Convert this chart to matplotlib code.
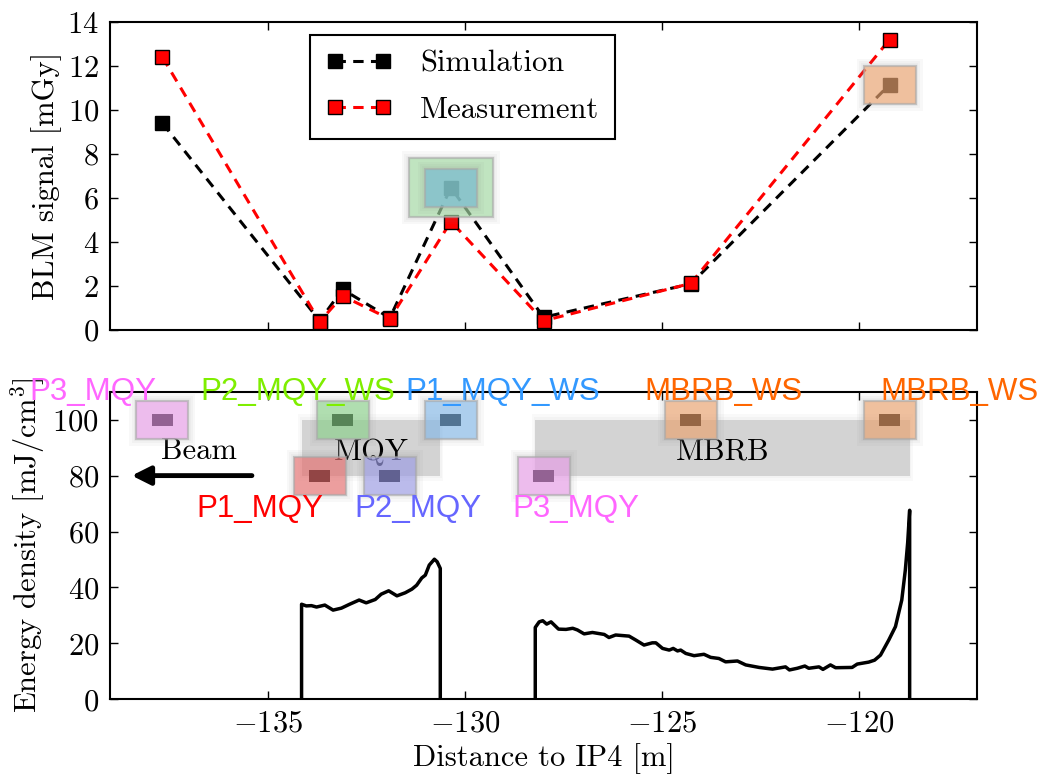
import numpy as np
import matplotlib
matplotlib.use('Agg')
import matplotlib.pyplot as plt
from matplotlib.patches import Rectangle
from matplotlib.transforms import ScaledTranslation
from matplotlib.ticker import FuncFormatter, MultipleLocator

# BLM positions and signals (top panel)
blm_pos = [-137.67, -133.68, -133.10, -131.90, -130.35, -128.00, -124.26, -119.22]
blm_names = ['P3_MQY', 'P1_MQY', 'P2_MQY_WS', 'P2_MQY', 'P1_MQY_WS', 'P3_MQY', 'MBRB_WS', 'MBRB_WS']
sim_signal = [9.4, 0.42, 1.85, 0.55, 6.47, 0.58, 2.10, 11.15]
meas_signal = [12.4, 0.38, 1.55, 0.50, 4.93, 0.42, 2.12, 13.2]

# magnets
magnet_names = ['MQY', 'MBRB']
magnet_start = [-134.14, -128.21]
magnet_end = [-130.62, -118.71]

# energy density profile along the magnets (bottom panel)
mqy_x = [-134.14, -134.02, -133.89, -133.76, -133.55, -133.34, -133.13, -132.92, -132.68,
         -132.50, -132.27, -132.12, -131.93, -131.72, -131.51, -131.34, -131.22, -131.09,
         -131.00, -130.90, -130.77, -130.70, -130.62]
mqy_e = [34.0, 33.4, 33.5, 33.0, 33.7, 31.9, 32.6, 34.0, 35.5,
         34.5, 35.7, 37.6, 38.8, 37.0, 38.1, 39.4, 40.8, 43.4,
         44.4, 48.0, 50.1, 49.2, 46.8]
mbrb_x = [-128.21, -128.11, -128.02, -127.92, -127.81, -127.62, -127.43, -127.26, -127.14,
          -126.97, -126.76, -126.46, -126.34, -126.17, -125.83, -125.66, -125.45, -125.24,
          -125.15, -124.98, -124.81, -124.71, -124.60, -124.52, -124.39, -124.18, -123.93,
          -123.76, -123.55, -123.38, -123.08, -122.87, -122.53, -122.19, -121.86, -121.76,
          -121.56, -121.37, -121.27, -121.01, -120.91, -120.72, -120.59, -120.17, -120.04,
          -119.75, -119.60, -119.45, -119.24, -119.07, -118.91, -118.82, -118.76, -118.71]
mbrb_e = [25.7, 27.7, 28.1, 26.9, 27.7, 25.1, 25.0, 25.4, 24.8,
          23.4, 23.9, 23.2, 22.1, 23.0, 22.6, 21.2, 19.4, 20.2,
          20.2, 18.2, 17.6, 18.2, 17.3, 17.6, 16.4, 15.6, 16.1,
          15.0, 14.6, 13.4, 13.7, 12.3, 11.4, 10.8, 11.6, 10.5,
          11.1, 11.9, 11.1, 11.6, 10.7, 12.3, 11.3, 11.4, 12.6,
          13.3, 14.0, 15.8, 21.2, 26.0, 35.5, 46.2, 56.0, 67.6]

# icon styling per BLM
icon_row = [100, 80, 100, 80, 100, 80, 100, 100]
label_color = ['#ff66ff', '#ff0000', '#7fee00', '#6666ff', '#3399ff', '#ff66ff', '#ff6600', '#ff6600']
box_color = ['#efa0ef', '#ed7070', '#8dd78d', '#9e9eec', '#86bdef', '#efa0ef', '#f2a670', '#f2a670']
label_dx = [-70, -60, -45, 28, 52, 32, 33, 70]   # px offset of label centre

plt.rcParams['font.family'] = 'serif'
plt.rcParams['font.serif'] = ['cmr10']
plt.rcParams['mathtext.fontset'] = 'cm'
plt.rcParams['axes.formatter.use_mathtext'] = True
FS = 22

fig = plt.figure(figsize=(10.49, 7.74), dpi=100)
ax1 = fig.add_axes([0.1049, 0.5736, 0.8265, 0.3980])
ax2 = fig.add_axes([0.1049, 0.0965, 0.8265, 0.3974])

PT = 72.0 / fig.dpi  # points per pixel


def px_rect(ax, x, y, w, h, **kw):
    """rectangle of w x h pixels centred on a data point"""
    tr = fig.dpi_scale_trans + ScaledTranslation(x, y, ax.transData)
    r = Rectangle((-w / 2 / fig.dpi, -h / 2 / fig.dpi), w / fig.dpi, h / fig.dpi,
                  transform=tr, **kw)
    ax.add_patch(r)
    return r


def icon(ax, x, y, color, w=52, h=38, inner=True, z=5):
    # soft glow
    for g in (14, 9, 5):
        px_rect(ax, x, y, w + g, h + g, facecolor='0.5', edgecolor='none', alpha=0.05, zorder=z)
    if inner:
        px_rect(ax, x, y, 21, 12, facecolor='k', edgecolor='none', zorder=z + 0.1)
    px_rect(ax, x, y, w, h, facecolor=color, edgecolor='#a8a8a8', lw=1.6, alpha=0.62, zorder=z + 0.2)


def fmt(v, p):
    return r'$%g$' % v


# ---- top panel: BLM signals
ax1.plot(blm_pos, sim_signal, 'k--', lw=2.2, dashes=(3.4, 2.4), marker='s', ms=9.5, mfc='k', mec='k',
         label='Simulation', zorder=3)
ax1.plot(blm_pos, meas_signal, 'r--', lw=2.2, dashes=(3.4, 2.4), marker='s', ms=9.5, mfc='r', mec='k', mew=1,
         label='Measurement', zorder=4)

i_ws = blm_names.index('P1_MQY_WS')
icon(ax1, blm_pos[i_ws], sim_signal[i_ws], '#a6e0a6', w=84, h=59, inner=False)
icon(ax1, blm_pos[i_ws], sim_signal[i_ws], '#73bdd7', inner=False, z=6)
icon(ax1, blm_pos[-1], sim_signal[-1], box_color[-1], inner=False)

ax1.set_xlim(-139, -117)
ax1.set_ylim(0, 14)
ax1.yaxis.set_major_locator(MultipleLocator(2))
ax1.xaxis.set_major_locator(MultipleLocator(5))
ax1.yaxis.set_major_formatter(FuncFormatter(fmt))
ax1.set_xticklabels([])
ax1.set_ylabel('BLM signal [mGy]', fontsize=FS)
leg = ax1.legend(loc='upper left', bbox_to_anchor=(0.2307, 0.958), borderaxespad=0, numpoints=2,
                 handlelength=2.2, handletextpad=0.9, fontsize=FS, fancybox=False,
                 edgecolor='k', framealpha=1, labelspacing=0.62, borderpad=0.5)
leg.get_frame().set_linewidth(1.5)

# ---- bottom panel: energy density
for name, x0, x1 in zip(magnet_names, magnet_start, magnet_end):
    for g in (0.08, 0.04):
        ax2.add_patch(Rectangle((x0 - g, 80 - g * 25), x1 - x0 + 2 * g, 20 + g * 50,
                                facecolor='0.6', edgecolor='none', alpha=0.06, zorder=1))
    ax2.add_patch(Rectangle((x0, 80), x1 - x0, 20, facecolor='#d3d3d3', edgecolor='none', zorder=1.5))
    ax2.text((x0 + x1) / 2, 88.5, name, fontsize=FS, ha='center', va='center', zorder=2)

for xs, es in ((mqy_x, mqy_e), (mbrb_x, mbrb_e)):
    ax2.plot([xs[0]] + xs + [xs[-1]], [0] + es + [0], 'k-', lw=2.5, zorder=3)

for x, row, name, lc, bc, dx in zip(blm_pos, icon_row, blm_names, label_color, box_color, label_dx):
    icon(ax2, x, row, bc)
    dy = 20 if row == 100 else -41
    ax2.annotate(name, xy=(x, row), xytext=(dx * PT, dy * PT), textcoords='offset points',
                 ha='center', va='baseline', color=lc, fontsize=22.5, family='Liberation Sans',
                 annotation_clip=False, zorder=8)

ax2.text(-136.75, 86, 'Beam', fontsize=FS, ha='center', va='baseline')
ax2.annotate('', xy=(-138.45, 80), xytext=(-135.4, 80),
             arrowprops=dict(arrowstyle='-|>', lw=3.5, color='k', mutation_scale=28, shrinkA=0, shrinkB=0))

ax2.set_xlim(-139, -117)
ax2.set_ylim(0, 110)
ax2.yaxis.set_major_locator(MultipleLocator(20))
ax2.xaxis.set_major_locator(MultipleLocator(5))
ax2.yaxis.set_major_formatter(FuncFormatter(fmt))
ax2.xaxis.set_major_formatter(FuncFormatter(fmt))
ax2.set_xlabel('Distance to IP4 [m]', fontsize=FS)
ax2.set_ylabel('Energy density [mJ/cm$^3$]', fontsize=FS)

for ax in (ax1, ax2):
    ax.tick_params(direction='in', top=True, right=True, length=6, width=1, labelsize=FS, pad=8)
    for s in ax.spines.values():
        s.set_linewidth(1.5)

fig.savefig('out.png', dpi=100)
